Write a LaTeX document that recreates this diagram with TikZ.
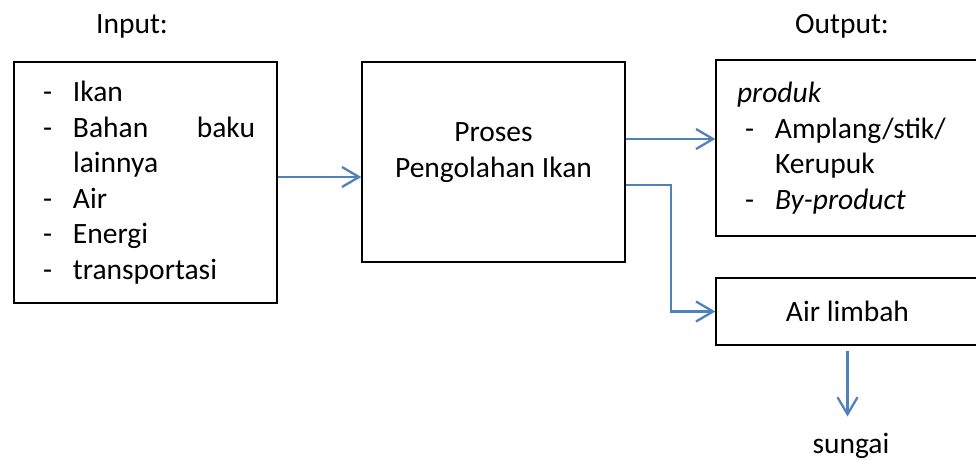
\documentclass[tikz,border=0pt]{standalone}
\usepackage{fontspec}
\setmainfont{Carlito}
\usetikzlibrary{arrows.meta}
\definecolor{flowblue}{RGB}{79,129,189}
\tikzstyle{base} = [rectangle, draw=black, line width=1.4pt, inner sep=0pt, minimum width=263pt, font=\fontsize{29.5}{35.5}\selectfont]
\tikzstyle{listbox} = [base, text width=263pt, align=left]
\tikzstyle{process} = [base, align=center]
\tikzstyle{tag} = [anchor=base, inner sep=0pt, font=\fontsize{29.5}{35.5}\selectfont]
\tikzstyle{flow} = [draw=flowblue, line width=2.3pt, -{Straight Barb[length=17pt, width=20pt]}]
\newcommand{\itm}[1]{\hspace*{29pt}\makebox[30pt][l]{-}#1}

\begin{document}
\begin{tikzpicture}[x=1pt, y=-1pt]
    \useasboundingbox (0,0) rectangle (976,459);
    \clip (0,0) rectangle (976,459);
    \node (inlabel) [tag] at (132,33) {Input:};
    \node (outlabel) [tag] at (842,33) {Output:};
    \node (input) [listbox, minimum height=241pt] at (145.5,182.5)
        {\itm{Ikan}\\ \itm{\makebox[182pt][l]{Bahan\hfill baku}}\\ \hspace*{59pt}lainnya\\ \itm{Air}\\ \itm{Energi}\\ \itm{transportasi}};
    \node (proc) [process, minimum height=200pt] at (493.5,162) {Proses\\Pengolahan Ikan\\[-11.5pt]\mbox{}};
    \node (prod) [listbox, minimum height=176pt] at (847.5,148)
        {\hspace*{21pt}\textit{produk}\\ \itm{Amplang/stik/}\\ \hspace*{59pt}Kerupuk\\ \itm{\textit{By-product}}};
    \node (limbah) [process, minimum height=67pt] at (847.5,311.5) {Air limbah};
    \node (sungai) [tag] at (851,453) {sungai};

    \draw[flow] ([yshift=5.5pt]input.east) -- ([yshift=5.5pt]input.east -| proc.west);
    \draw[flow] ([yshift=23pt]proc.east) -- ([yshift=23pt]proc.east -| prod.west);
    \draw[flow] ([yshift=-23pt]proc.east) -- ++(45,0) |- (limbah.west);
    \draw[flow, shorten <=5pt, shorten >=16pt] (limbah.south) -- (limbah.south |- sungai.north);
\end{tikzpicture}
\end{document}
